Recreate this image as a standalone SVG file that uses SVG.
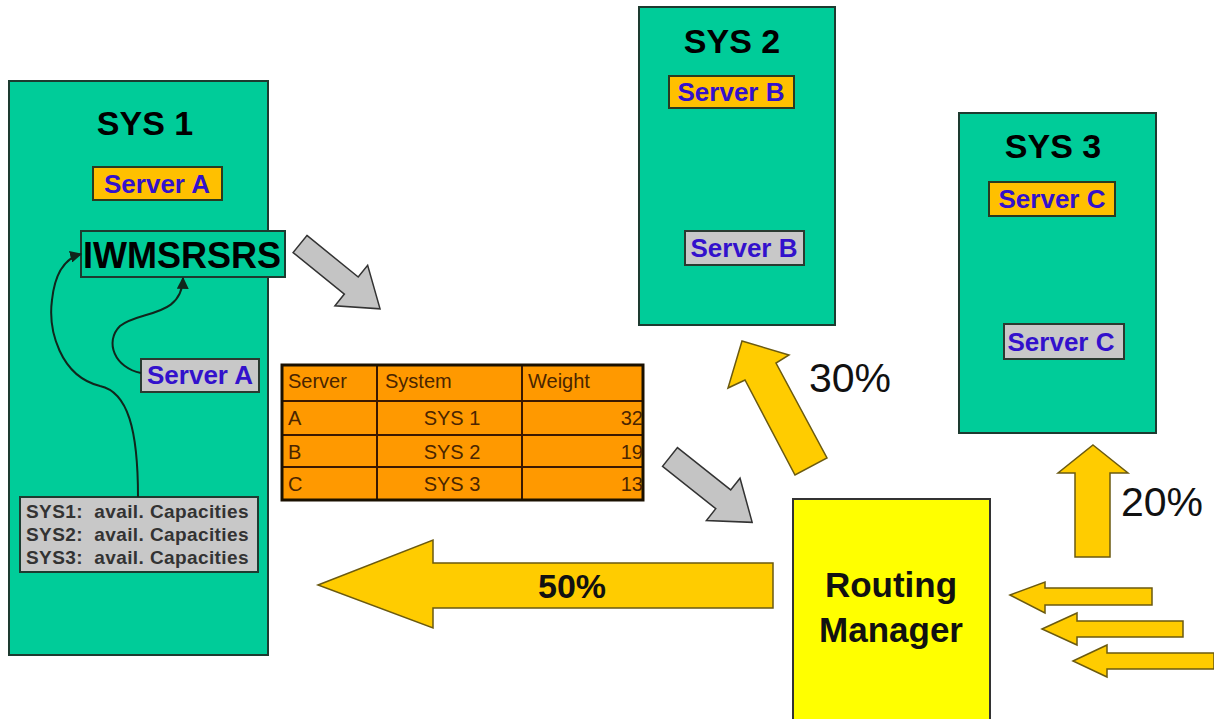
<svg xmlns="http://www.w3.org/2000/svg" width="1214" height="719" viewBox="0 0 1214 719">
<style>
.sys{fill:#00CC99;stroke:#1d3b30;stroke-width:2}
.title{font-family:"Liberation Sans",Arial,sans-serif;font-weight:bold;font-size:34px;fill:#000;text-anchor:middle}
.srvO{fill:#FFC000;stroke:#2a3a20;stroke-width:2}
.srvG{fill:#C8C8C8;stroke:#2a3a30;stroke-width:2}
.srvT{font-family:"Liberation Sans",Arial,sans-serif;font-weight:bold;font-size:26px;fill:#3311CC;text-anchor:middle}
.arrY{fill:#FFCC00;stroke:#6b5a10;stroke-width:1.5;stroke-linejoin:miter}
.arrG{fill:#C4C4C4;stroke:#333;stroke-width:1.5}
.pct{font-family:"Liberation Sans",Arial,sans-serif;font-size:41px;fill:#111}
.tbl{font-family:"Liberation Sans",Arial,sans-serif;font-size:20px;fill:#4a2500}
.cap{font-family:"Liberation Sans",Arial,sans-serif;font-weight:bold;font-size:19px;letter-spacing:0.4px;fill:#333}
.curve{fill:none;stroke:#10261c;stroke-width:2}
</style>
<defs>
<marker id="ah" viewBox="0 0 10 10" refX="9" refY="5" markerWidth="6" markerHeight="6" orient="auto-start-reverse">
<path d="M0,0 L10,5 L0,10 z" fill="#10261c"/>
</marker>
</defs>
<rect width="1214" height="719" fill="#fff"/>

<g id="sys1">
<rect class="sys" x="9" y="81" width="259" height="574"/>
<text class="title" x="145" y="135">SYS 1</text>
</g>
<g id="serverA1">
<rect class="srvO" x="93" y="167" width="129" height="33"/>
<text class="srvT" x="157" y="193">Server A</text>
</g>
<g id="iwmsrsrs">
<rect x="81" y="231" width="204" height="46" fill="#00CC99" stroke="#1d3b30" stroke-width="2"/>
<text x="182" y="268" font-family="Liberation Sans,Arial,sans-serif" font-weight="bold" font-size="36" text-anchor="middle" fill="#000">IWMSRSRS</text>
</g>
<g id="serverA2">
<rect class="srvG" x="141" y="359" width="118" height="33"/>
<text class="srvT" x="200" y="384">Server A</text>
</g>
<g id="capacities">
<rect x="20" y="497" width="238" height="75" fill="#C8C8C8" stroke="#1d3b30" stroke-width="2"/>
<text class="cap" x="26" y="518" xml:space="preserve">SYS1:  avail. Capacities</text>
<text class="cap" x="26" y="541" xml:space="preserve">SYS2:  avail. Capacities</text>
<text class="cap" x="26" y="564" xml:space="preserve">SYS3:  avail. Capacities</text>
</g>

<g id="sys2">
<rect class="sys" x="639" y="7" width="196" height="318"/>
<text class="title" x="732" y="53">SYS 2</text>
</g>
<g id="serverB1">
<rect class="srvO" x="669" y="76" width="125" height="32"/>
<text class="srvT" x="731" y="101">Server B</text>
</g>
<g id="serverB2">
<rect class="srvG" x="685" y="231" width="119" height="34"/>
<text class="srvT" x="744" y="257">Server B</text>
</g>

<g id="sys3">
<rect class="sys" x="959" y="113" width="197" height="320"/>
<text class="title" x="1053" y="158">SYS 3</text>
</g>
<g id="serverC1">
<rect class="srvO" x="989" y="182" width="126" height="34"/>
<text class="srvT" x="1052" y="208">Server C</text>
</g>
<g id="serverC2">
<rect class="srvG" x="1004" y="324" width="120" height="35"/>
<text class="srvT" x="1061" y="351">Server C</text>
</g>

<g id="table">
<rect x="282" y="365" width="361" height="135" fill="#FF9900"/>
<g stroke="#3a1800" stroke-width="2">
<line x1="282" y1="401" x2="643" y2="401"/>
<line x1="282" y1="435" x2="643" y2="435"/>
<line x1="282" y1="467" x2="643" y2="467"/>
<line x1="377" y1="365" x2="377" y2="500"/>
<line x1="522" y1="365" x2="522" y2="500"/>
</g>
<rect x="282" y="365" width="361" height="135" fill="none" stroke="#1a1000" stroke-width="3"/>
<text class="tbl" x="288" y="388">Server</text>
<text class="tbl" x="385" y="388">System</text>
<text class="tbl" x="528" y="388">Weight</text>
<text class="tbl" x="288" y="425">A</text>
<text class="tbl" x="452" y="425" text-anchor="middle">SYS 1</text>
<text class="tbl" x="643" y="425" text-anchor="end">32</text>
<text class="tbl" x="288" y="459">B</text>
<text class="tbl" x="452" y="459" text-anchor="middle">SYS 2</text>
<text class="tbl" x="643" y="459" text-anchor="end">19</text>
<text class="tbl" x="288" y="491">C</text>
<text class="tbl" x="452" y="491" text-anchor="middle">SYS 3</text>
<text class="tbl" x="643" y="491" text-anchor="end">13</text>
</g>

<g id="routing">
<rect x="793" y="499" width="197" height="222" fill="#FFFF00" stroke="#333" stroke-width="2"/>
<text x="891" y="597" font-family="Liberation Sans,Arial,sans-serif" font-weight="bold" font-size="35" text-anchor="middle" fill="#111">Routing</text>
<text x="891" y="642" font-family="Liberation Sans,Arial,sans-serif" font-weight="bold" font-size="35" text-anchor="middle" fill="#111">Manager</text>
</g>

<g id="connectors">
<path class="curve" d="M138,497 C138,430 128,392 100,386 C60,376 48,330 52,300 C55,272 66,258 81,254" marker-end="url(#ah)"/>
<path class="curve" d="M141,373 C115,368 104,342 120,326 C140,310 182,318 183,278" marker-end="url(#ah)"/>

<polygon class="arrG" points="0,-11 66,-11 66,-26 103,0 66,26 66,11 0,11" transform="translate(300,244) rotate(39)"/>
<polygon class="arrG" points="0,-12 68,-12 68,-27 105,0 68,27 68,12 0,12" transform="translate(670,457) rotate(38.5)"/>

<polygon class="arrY" points="318,585 433,540 433,563 773,563 773,608 433,608 433,628"/>
<text x="572" y="598" font-family="Liberation Sans,Arial,sans-serif" font-weight="bold" font-size="34" text-anchor="middle" fill="#111">50%</text>

<polygon class="arrY" points="742,341 789,355 776,363 827,458 795,475 745,380 728,388"/>
<text class="pct" x="809" y="392">30%</text>

<polygon class="arrY" points="1093,445 1128,473 1110,473 1110,557 1075,557 1075,473 1058,473"/>
<text class="pct" x="1121" y="516">20%</text>

<polygon class="arrY" points="1010,595 1045,582 1045,588 1152,588 1152,605 1045,605 1045,613"/>
<polygon class="arrY" points="1042,629 1077,613 1077,621 1183,621 1183,637 1077,637 1077,645"/>
<polygon class="arrY" points="1073,661 1107,645 1107,653 1214,653 1214,669 1107,669 1107,677"/>
</g>
</svg>
